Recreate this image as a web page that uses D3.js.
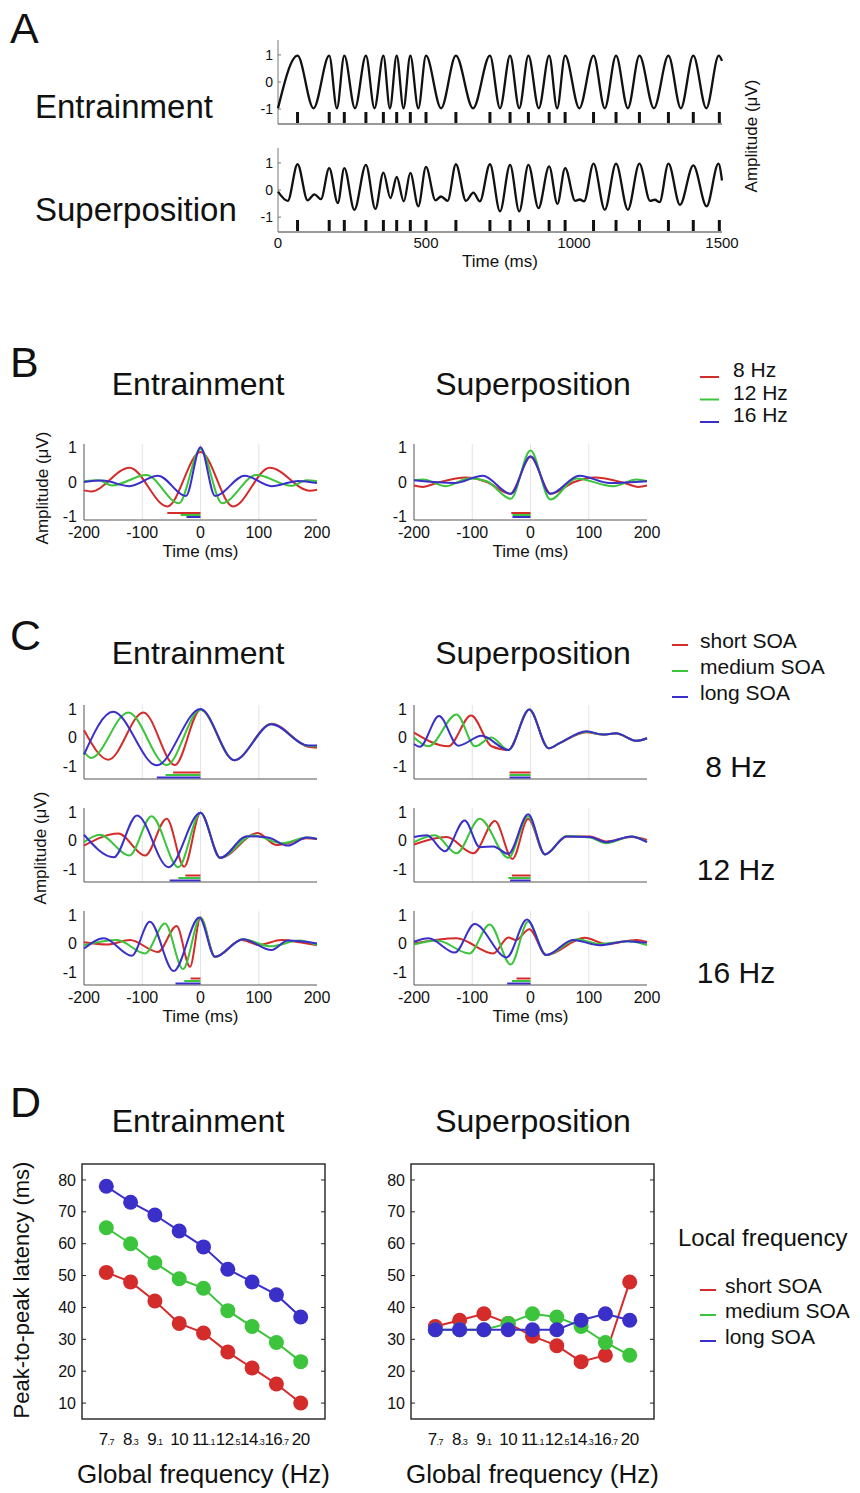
<!DOCTYPE html>
<html>
<head>
<meta charset="utf-8">
<script src="https://cdn.jsdelivr.net/npm/d3@7"></script>
<style>
    body { margin: 0; background: #fff; }
    text { font-family: "Liberation Sans", Arial, sans-serif; fill: #111; }
</style>
</head>
<body>
<div id="chart"></div>
<script>
// ---- Data ----

// Panel A: stimulus onsets (ms) and waveform extrema [ms, uV]
const stimTimes = [66, 173, 224, 297, 356, 401, 447, 500, 601, 716, 784, 846, 916, 970, 1066, 1142, 1221, 1319, 1403, 1491];
const entrainTrace = [[0, -0.97], [66, 0.97], [120, -0.97], [173, 0.97], [199, -0.97], [224, 0.97], [260, -0.97], [297, 0.97],
    [326, -0.97], [356, 0.97], [378, -0.97], [401, 0.97], [424, -0.97], [447, 0.97], [474, -0.97], [500, 0.97], [551, -0.97],
    [601, 0.97], [659, -0.97], [716, 0.97], [750, -0.97], [784, 0.97], [815, -0.97], [846, 0.97], [881, -0.97], [916, 0.97],
    [943, -0.97], [970, 0.97], [1018, -0.97], [1066, 0.97], [1104, -0.97], [1142, 0.97], [1182, -0.97], [1221, 0.97],
    [1270, -0.97], [1319, 0.97], [1361, -0.97], [1403, 0.97], [1447, -0.97], [1489, 0.97], [1500, 0.78]];
const superTrace = [[0, -0.06], [33, -0.4], [66, 0.95], [100, -0.38], [123, -0.16], [145, -0.34], [173, 0.81], [202, -0.48],
    [224, 0.81], [258, -0.73], [297, 0.93], [329, -0.7], [356, 0.64], [380, -0.3], [401, 0.48], [425, -0.42], [447, 0.63],
    [474, -0.6], [500, 0.85], [532, -0.38], [551, -0.24], [573, -0.4], [601, 0.95], [635, -0.4], [660, -0.1], [682, -0.42],
    [716, 0.95], [750, -0.79], [784, 0.93], [815, -0.79], [846, 0.93], [880, -0.67], [916, 0.87], [944, -0.51], [970, 0.81],
    [1004, -0.4], [1020, -0.35], [1034, -0.42], [1066, 0.97], [1104, -0.73], [1142, 0.97], [1182, -0.73], [1221, 0.97],
    [1257, -0.4], [1273, -0.36], [1289, -0.45], [1319, 0.97], [1358, -0.55], [1403, 0.91], [1448, -0.6], [1488, 0.97], [1500, 0.35]];
const aTimeTicks = [0, 500, 1000, 1500];

// Panel B: averaged responses, 8 / 12 / 16 Hz
const bEntr8 = [[-200, -0.24], [-188, -0.27], [-122, 0.41], [-57, -0.7], [0, 0.86], [56, -0.7], [119, 0.41], [188, -0.25], [200, -0.22]];
const bEntr12 = [[-200, 0.02], [-175, 0.05], [-152, -0.1], [-93, 0.2], [-37, -0.61], [0, 0.95], [37, -0.61], [96, 0.2], [156, -0.11], [182, 0.05], [200, 0.02]];
const bEntr16 = [[-200, 0], [-168, 0.04], [-122, -0.12], [-73, 0.18], [-25, -0.4], [0, 1.0], [25, -0.4], [76, 0.18], [122, -0.12], [168, 0.03], [200, -0.03]];
const bSup8 = [[-200, -0.1], [-185, -0.14], [-160, -0.02], [-110, 0.13], [-75, 0.0], [-35, -0.34], [0, 0.72], [35, -0.34], [75, 0.0], [110, 0.13], [160, -0.02], [185, -0.14], [200, -0.1]];
const bSup12 = [[-200, 0.05], [-185, 0.07], [-145, -0.12], [-105, 0.11], [-75, 0.02], [-34, -0.48], [0, 0.9], [34, -0.5], [79, 0.1], [142, -0.12], [182, 0.07], [200, 0.02]];
const bSup16 = [[-200, 0.05], [-130, -0.03], [-82, 0.18], [-34, -0.34], [0, 0.74], [34, -0.34], [84, 0.18], [136, -0.03], [200, 0.02]];
const bEntrBars = [-57, -34, -24];
const bSupBars = [-33, -31, -31];

// Panel C: short / medium / long SOA, rows 8, 12, 16 Hz
const cEntrShort8 = [[-200, 0.25], [-158, -0.78], [-98, 0.88], [-44, -0.97], [0, 0.97], [58, -0.8], [122, 0.48], [185, -0.33], [200, -0.36]];
const cEntrMedium8 = [[-200, -0.5], [-188, -0.72], [-124, 0.88], [-58, -0.97], [0, 0.97], [58, -0.8], [122, 0.46], [185, -0.3], [200, -0.31]];
const cEntrLong8 = [[-200, -0.6], [-150, 0.9], [-75, -0.98], [0, 1.0], [58, -0.8], [122, 0.46], [185, -0.28], [200, -0.28]];
const cEntrShort12 = [[-200, -0.18], [-141, 0.24], [-95, -0.53], [-58, 0.76], [-28, -0.92], [0, 0.97], [34, -0.61], [98, 0.26], [130, -0.16], [150, -0.1], [182, 0.08], [200, 0.05]];
const cEntrMedium12 = [[-200, -0.06], [-173, 0.2], [-122, -0.53], [-84, 0.85], [-38, -0.94], [0, 0.97], [34, -0.61], [90, 0.18], [140, -0.1], [182, 0.1], [200, 0.05]];
const cEntrLong12 = [[-200, 0.2], [-149, -0.59], [-109, 0.88], [-55, -0.94], [0, 0.97], [34, -0.61], [80, 0.15], [116, 0.1], [150, -0.18], [182, 0.1], [200, 0.05]];
const cEntrShort16 = [[-200, 0.04], [-160, -0.04], [-121, 0.12], [-73, -0.3], [-41, 0.61], [-18, -0.82], [0, 0.91], [25, -0.47], [70, 0.12], [100, -0.05], [139, 0.12], [170, 0.04], [200, -0.06]];
const cEntrMedium16 = [[-200, -0.06], [-143, 0.12], [-95, -0.35], [-61, 0.7], [-30, -0.9], [0, 0.91], [25, -0.47], [73, 0.15], [120, -0.1], [170, 0.1], [200, -0.06]];
const cEntrLong16 = [[-200, -0.18], [-166, 0.18], [-118, -0.43], [-87, 0.76], [-46, -0.97], [-2, 0.91], [25, -0.47], [73, 0.15], [122, -0.23], [150, 0.1], [200, 0]];
const cSupShort8 = [[-200, 0.17], [-141, -0.31], [-102, 0.77], [-67, -0.31], [-38, -0.44], [-2, 0.98], [31, -0.38], [50, -0.2], [96, 0.18], [124, 0.1], [147, 0.14], [182, -0.12], [200, -0.03]];
const cSupMedium8 = [[-200, 0], [-175, -0.31], [-127, 0.81], [-95, -0.31], [-67, 0.0], [-38, -0.44], [-2, 0.98], [31, -0.38], [50, -0.2], [96, 0.2], [124, 0.1], [147, 0.15], [182, -0.12], [200, -0.03]];
const cSupLong8 = [[-200, -0.23], [-190, -0.33], [-157, 0.75], [-124, -0.29], [-84, 0.06], [-38, -0.44], [-2, 0.98], [31, -0.38], [50, -0.2], [96, 0.22], [124, 0.1], [147, 0.15], [182, -0.12], [200, -0.03]];
const cSupShort12 = [[-200, -0.14], [-144, 0.12], [-98, -0.45], [-61, 0.68], [-31, -0.65], [-4, 0.76], [25, -0.49], [62, 0.14], [102, 0.14], [130, -0.04], [173, 0.12], [200, 0.02]];
const cSupMedium12 = [[-200, -0.06], [-164, 0.18], [-127, -0.45], [-87, 0.76], [-38, -0.61], [-4, 0.85], [25, -0.49], [62, 0.16], [102, 0.1], [130, -0.1], [173, 0.14], [200, -0.04]];
const cSupLong12 = [[-200, 0.12], [-178, 0.18], [-147, -0.38], [-113, 0.7], [-87, -0.24], [-64, -0.21], [-38, -0.47], [-4, 0.92], [25, -0.49], [62, 0.14], [102, 0.12], [130, -0.06], [173, 0.14], [200, -0.06]];
const cSupShort16 = [[-200, 0], [-127, 0.18], [-64, -0.35], [-38, 0.21], [-25, 0.12], [-2, 0.5], [27, -0.41], [93, 0.2], [130, -0.02], [182, 0.12], [200, 0.05]];
const cSupMedium16 = [[-200, -0.04], [-160, 0.1], [-105, -0.35], [-70, 0.67], [-34, -0.74], [-4, 0.76], [27, -0.41], [80, 0.15], [120, -0.02], [170, 0.08], [200, -0.06]];
const cSupLong16 = [[-200, 0.06], [-175, 0.18], [-130, -0.32], [-96, 0.68], [-41, -0.49], [-6, 0.84], [27, -0.41], [73, 0.12], [119, -0.06], [165, 0.08], [200, 0.02]];
const cEntrBars = [[-47, -60, -75], [-26, -38, -53], [-17, -28, -43]];
const cSupBars = [[-36, -36, -36], [-32, -38, -35], [-24, -32, -40]];

// Panel D: peak-to-peak latency (ms) per global frequency
const freqLabels = ["7.7", "8.3", "9.1", "10", "11.1", "12.5", "14.3", "16.7", "20"];
const entrShort = [51, 48, 42, 35, 32, 26, 21, 16, 10];
const entrMedium = [65, 60, 54, 49, 46, 39, 34, 29, 23];
const entrLong = [78, 73, 69, 64, 59, 52, 48, 44, 37];
const supShort = [34, 36, 38, 35, 31, 28, 23, 25, 48];
const supMedium = [33, 33, 33, 35, 38, 37, 34, 29, 25];
const supLong = [33, 33, 33, 33, 33, 33, 36, 38, 36];
const latencyTicks = [10, 20, 30, 40, 50, 60, 70, 80];

const freqNames = ["8 Hz", "12 Hz", "16 Hz"];
const soaNames = ["short SOA", "medium SOA", "long SOA"];
const ampTicks = [1, 0, -1];
const timeTicks = [-200, -100, 0, 100, 200];

// ---- Styles ----
const colors = ["#d42b2b", "#3cc43c", "#3b2fc9"];

const svg = d3.select("#chart")
    .append("svg")
    .attr("width", 860)
    .attr("height", 1493)
    .style("background-color", "white");

function label(x, y, txt, size, anchor) {
    return svg.append("text")
        .attr("x", x)
        .attr("y", y)
        .attr("font-size", size)
        .attr("text-anchor", anchor || "start")
        .text(txt);
}

function rotLabel(x, y, txt, size) {
    return svg.append("text")
        .attr("transform", "translate(" + x + "," + y + ") rotate(-90)")
        .attr("font-size", size)
        .attr("text-anchor", "middle")
        .text(txt);
}

/* Panel A */
label(10, 43, "A", 43);
label(35, 118, "Entrainment", 33);
label(35, 221, "Superposition", 33);

const aX = d3.scaleLinear().domain([0, 1500]).range([278, 722]);
const aRows = [
    {trace: entrainTrace, top: 40, bottom: 124},
    {trace: superTrace, top: 148, bottom: 232}
];

aRows.forEach(function (row) {
    const y = d3.scaleLinear().domain([-1.55, 1.55]).range([row.bottom, row.top]);
    const g = svg.append("g");

    g.append("line")
        .attr("x1", aX(0)).attr("x2", aX(0))
        .attr("y1", row.top).attr("y2", row.bottom)
        .attr("stroke", "#777");
    g.append("line")
        .attr("x1", aX(0)).attr("x2", aX(1500))
        .attr("y1", row.bottom).attr("y2", row.bottom)
        .attr("stroke", "#777").attr("stroke-width", 1.3);

    g.selectAll(".tk").data(ampTicks).join("line")
        .attr("x1", aX(0)).attr("x2", aX(0) + 3)
        .attr("y1", d => y(d)).attr("y2", d => y(d))
        .attr("stroke", "#777");
    g.selectAll(".yl").data(ampTicks).join("text")
        .attr("x", aX(0) - 5)
        .attr("y", d => y(d))
        .attr("dy", "0.35em")
        .attr("text-anchor", "end")
        .attr("font-size", 14)
        .text(d => d);

    // stimulus markers
    g.selectAll(".stim").data(stimTimes).join("line")
        .attr("x1", d => aX(d)).attr("x2", d => aX(d))
        .attr("y1", row.bottom - 1).attr("y2", row.bottom - 12)
        .attr("stroke", "#111").attr("stroke-width", 3);

    g.append("path")
        .attr("d", d3.line().x(d => aX(d[0])).y(d => y(d[1])).curve(d3.curveMonotoneX)(row.trace))
        .attr("fill", "none")
        .attr("stroke", "#111")
        .attr("stroke-width", 2.3);
});

svg.selectAll(".atick").data(aTimeTicks).join("text")
    .attr("x", d => aX(d))
    .attr("y", 248)
    .attr("text-anchor", "middle")
    .attr("font-size", 15)
    .text(d => d);
label(500, 267, "Time (ms)", 17, "middle");
rotLabel(757, 136, "Amplitude (\u03bcV)", 17);

/* Wave panels used by B and C */
function wavePanel(xRange, top, bottom, yDomain, curves, bars, barOffsets, showX) {
    const x = d3.scaleLinear().domain([-200, 200]).range(xRange);
    const y = d3.scaleLinear().domain(yDomain).range([bottom, top]);
    const g = svg.append("g");

    g.selectAll(".grid").data([-100, 0, 100]).join("line")
        .attr("x1", d => x(d)).attr("x2", d => x(d))
        .attr("y1", top).attr("y2", bottom)
        .attr("stroke", "#e4e4e4");

    g.append("line")
        .attr("x1", x(-200)).attr("x2", x(-200))
        .attr("y1", top).attr("y2", bottom)
        .attr("stroke", "#555");
    g.append("line")
        .attr("x1", x(-200)).attr("x2", x(200))
        .attr("y1", bottom).attr("y2", bottom)
        .attr("stroke", "#555");

    g.selectAll(".yl").data(ampTicks).join("text")
        .attr("x", x(-200) - 7)
        .attr("y", d => y(d))
        .attr("dy", "0.35em")
        .attr("text-anchor", "end")
        .attr("font-size", 16)
        .text(d => d);

    // significance bars, trough to peak
    g.selectAll(".bar").data(bars).join("line")
        .attr("x1", d => x(d)).attr("x2", x(0))
        .attr("y1", (d, i) => bottom - barOffsets[i])
        .attr("y2", (d, i) => bottom - barOffsets[i])
        .attr("stroke", (d, i) => colors[i])
        .attr("stroke-width", 2);

    const line = d3.line().x(d => x(d[0])).y(d => y(d[1])).curve(d3.curveMonotoneX);
    g.selectAll(".curve").data(curves).join("path")
        .attr("d", d => line(d))
        .attr("fill", "none")
        .attr("stroke", (d, i) => colors[i])
        .attr("stroke-width", 2);

    if (showX) {
        g.selectAll(".xl").data(timeTicks).join("text")
            .attr("x", d => x(d))
            .attr("y", bottom + 18)
            .attr("text-anchor", "middle")
            .attr("font-size", 16)
            .text(d => d);
        g.append("text")
            .attr("x", x(0))
            .attr("y", bottom + 37)
            .attr("text-anchor", "middle")
            .attr("font-size", 17)
            .text("Time (ms)");
    }
}

function legend(items, lineX, textX, ys, size, lineDy) {
    items.forEach(function (d, i) {
        svg.append("line")
            .attr("x1", lineX[0]).attr("x2", lineX[1])
            .attr("y1", ys[i] + lineDy).attr("y2", ys[i] + lineDy)
            .attr("stroke", colors[i]).attr("stroke-width", 2);
        label(textX, ys[i], d, size);
    });
}

const leftX = [84, 317];
const rightX = [414, 647];

/* Panel B */
label(10, 377, "B", 43);
label(198, 395, "Entrainment", 32, "middle");
label(533, 395, "Superposition", 32, "middle");
legend(freqNames, [700, 719], 733, [377, 399.5, 422], 21, 0);

wavePanel(leftX, 444, 520, [-1.09, 1.09], [bEntr8, bEntr12, bEntr16], bEntrBars, [7, 5, 3], true);
wavePanel(rightX, 444, 520, [-1.09, 1.09], [bSup8, bSup12, bSup16], bSupBars, [7, 5, 3], true);
rotLabel(48, 488, "Amplitude (\u03bcV)", 17);

/* Panel C */
label(10, 650, "C", 43);
label(198, 664, "Entrainment", 32, "middle");
label(533, 664, "Superposition", 32, "middle");
legend(soaNames, [672, 688], 700, [648, 674, 700], 21, -3);

const cBottoms = [779, 882, 985];
const cEntr = [[cEntrShort8, cEntrMedium8, cEntrLong8], [cEntrShort12, cEntrMedium12, cEntrLong12], [cEntrShort16, cEntrMedium16, cEntrLong16]];
const cSup = [[cSupShort8, cSupMedium8, cSupLong8], [cSupShort12, cSupMedium12, cSupLong12], [cSupShort16, cSupMedium16, cSupLong16]];

cBottoms.forEach(function (b, r) {
    wavePanel(leftX, b - 74, b, [-1.46, 1.14], cEntr[r], cEntrBars[r], [6.5, 4, 1.5], r === 2);
    wavePanel(rightX, b - 74, b, [-1.46, 1.14], cSup[r], cSupBars[r], [6.5, 4, 1.5], r === 2);
    label(736, b - 2, freqNames[r], 30, "middle");
});
rotLabel(46, 848, "Amplitude (\u03bcV)", 17);

/* Panel D */
label(10, 1117, "D", 43);
label(198, 1132, "Entrainment", 32, "middle");
label(533, 1132, "Superposition", 32, "middle");

function latencyPanel(xRange, series) {
    const x = d3.scalePoint().domain(freqLabels).range(xRange).padding(1);
    const y = d3.scaleLinear().domain([5, 85]).range([1419, 1164]);
    const g = svg.append("g");

    g.append("rect")
        .attr("x", xRange[0]).attr("y", 1164)
        .attr("width", xRange[1] - xRange[0]).attr("height", 1419 - 1164)
        .attr("fill", "none")
        .attr("stroke", "#222").attr("stroke-width", 1.4);

    g.selectAll(".tl").data(latencyTicks).join("line")
        .attr("x1", xRange[0]).attr("x2", xRange[0] + 4)
        .attr("y1", d => y(d)).attr("y2", d => y(d))
        .attr("stroke", "#222");
    g.selectAll(".tr").data(latencyTicks).join("line")
        .attr("x1", xRange[1] - 4).attr("x2", xRange[1])
        .attr("y1", d => y(d)).attr("y2", d => y(d))
        .attr("stroke", "#222");
    g.selectAll(".yl").data(latencyTicks).join("text")
        .attr("x", xRange[0] - 6)
        .attr("y", d => y(d))
        .attr("dy", "0.35em")
        .attr("text-anchor", "end")
        .attr("font-size", 16)
        .text(d => d);

    // frequency labels with small decimal part
    const xl = g.selectAll(".xl").data(freqLabels).join("text")
        .attr("x", d => x(d))
        .attr("y", 1445)
        .attr("text-anchor", "middle")
        .attr("font-size", 17)
        .attr("letter-spacing", -0.6);
    xl.append("tspan").text(d => d.split(".")[0]);
    xl.append("tspan")
        .attr("font-size", 9)
        .text(d => d.indexOf(".") >= 0 ? d.slice(d.indexOf(".")) : "");

    const line = d3.line().x((d, i) => x(freqLabels[i])).y(d => y(d));
    series.forEach(function (s, k) {
        g.append("path")
            .attr("d", line(s))
            .attr("fill", "none")
            .attr("stroke", colors[k])
            .attr("stroke-width", 2);
        g.selectAll(".pt" + k).data(s).join("circle")
            .attr("cx", (d, i) => x(freqLabels[i]))
            .attr("cy", d => y(d))
            .attr("r", 7.5)
            .attr("fill", colors[k]);
    });

    g.append("text")
        .attr("x", (xRange[0] + xRange[1]) / 2)
        .attr("y", 1483)
        .attr("text-anchor", "middle")
        .attr("font-size", 26)
        .text("Global frequency (Hz)");
}

latencyPanel([82, 325], [entrShort, entrMedium, entrLong]);
latencyPanel([411, 654], [supShort, supMedium, supLong]);
rotLabel(29, 1290, "Peak-to-peak latency (ms)", 22);

label(678, 1246, "Local frequency", 24);
legend(soaNames, [700, 716], 725, [1293, 1318, 1344], 21, -3);
</script>
</body>
</html>
